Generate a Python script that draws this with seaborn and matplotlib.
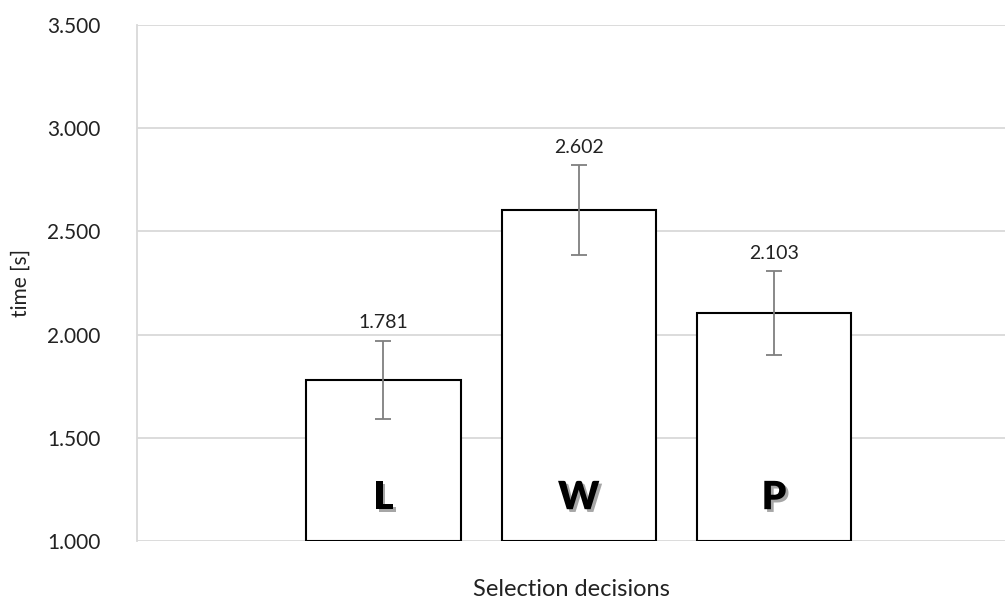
import numpy as np
import pandas as pd
import matplotlib
matplotlib.use("Agg")
import matplotlib.pyplot as plt
import matplotlib.patheffects as pe
import seaborn as sns

# %% Data.
decisions = ["L", "W", "P"]
mean_time = [1.781, 2.602, 2.103]
err_time = [0.188, 0.218, 0.204]
y_ticks = [1.0, 1.5, 2.0, 2.5, 3.0, 3.5]

df = pd.DataFrame({"decision": decisions, "time": mean_time})

# %% Style.
sns.set_style("white")
plt.rcParams["font.family"] = ["Lato", "DejaVu Sans"]

fig = plt.figure(figsize=(10.07, 6.02), dpi=100)
ax = fig.add_axes([0.136, 0.1013, 0.862, 0.8572])

sns.barplot(data=df, x="decision", y="time", color="white", edgecolor="black",
            linewidth=1.5, width=0.79, errorbar=None, ax=ax, zorder=3)
# bars start at the axis floor, so their bottom edge shows
for p in ax.patches:
    p.set_height(p.get_height() - 1.0)
    p.set_y(1.0)
ax.errorbar(np.arange(len(decisions)), mean_time, yerr=err_time, fmt="none",
            ecolor="#7f7f7f", elinewidth=1.3, capsize=6, capthick=1.3, zorder=4)

# value labels above the error bars
for i, (m, e) in enumerate(zip(mean_time, err_time)):
    ax.annotate(f"{m:.3f}", (i, m + e), xytext=(0, 7), textcoords="offset points",
                ha="center", va="bottom", fontsize=14, color="#222222")
    ax.text(i, 1.21, decisions[i], ha="center", va="center", fontsize=28,
            fontweight="heavy", color="black", zorder=5,
            path_effects=[pe.withSimplePatchShadow(offset=(2, -2), alpha=0.35)])

# %% Axes.
ax.set_ylim(1.0, 3.5)
ax.set_xlim(-1.262, 3.183)
ax.set_yticks(y_ticks, labels=[f"{t:.3f}" for t in y_ticks], fontsize=15,
              color="#222222")
ax.set_xticks([])
ax.tick_params(axis="y", length=0, pad=26)
ax.grid(axis="y", color="#d9d9d9", linewidth=1.3, zorder=0)
ax.set_axisbelow(True)
for side in ["top", "right", "bottom"]:
    ax.spines[side].set_visible(False)
ax.spines["left"].set_color("#d9d9d9")
ax.spines["left"].set_linewidth(1.3)
ax.set_ylabel("time [s]", fontsize=15, color="#222222", labelpad=12)
ax.set_xlabel("Selection decisions", fontsize=17, color="#222222", labelpad=27)

fig.savefig("out.png", dpi=100)
